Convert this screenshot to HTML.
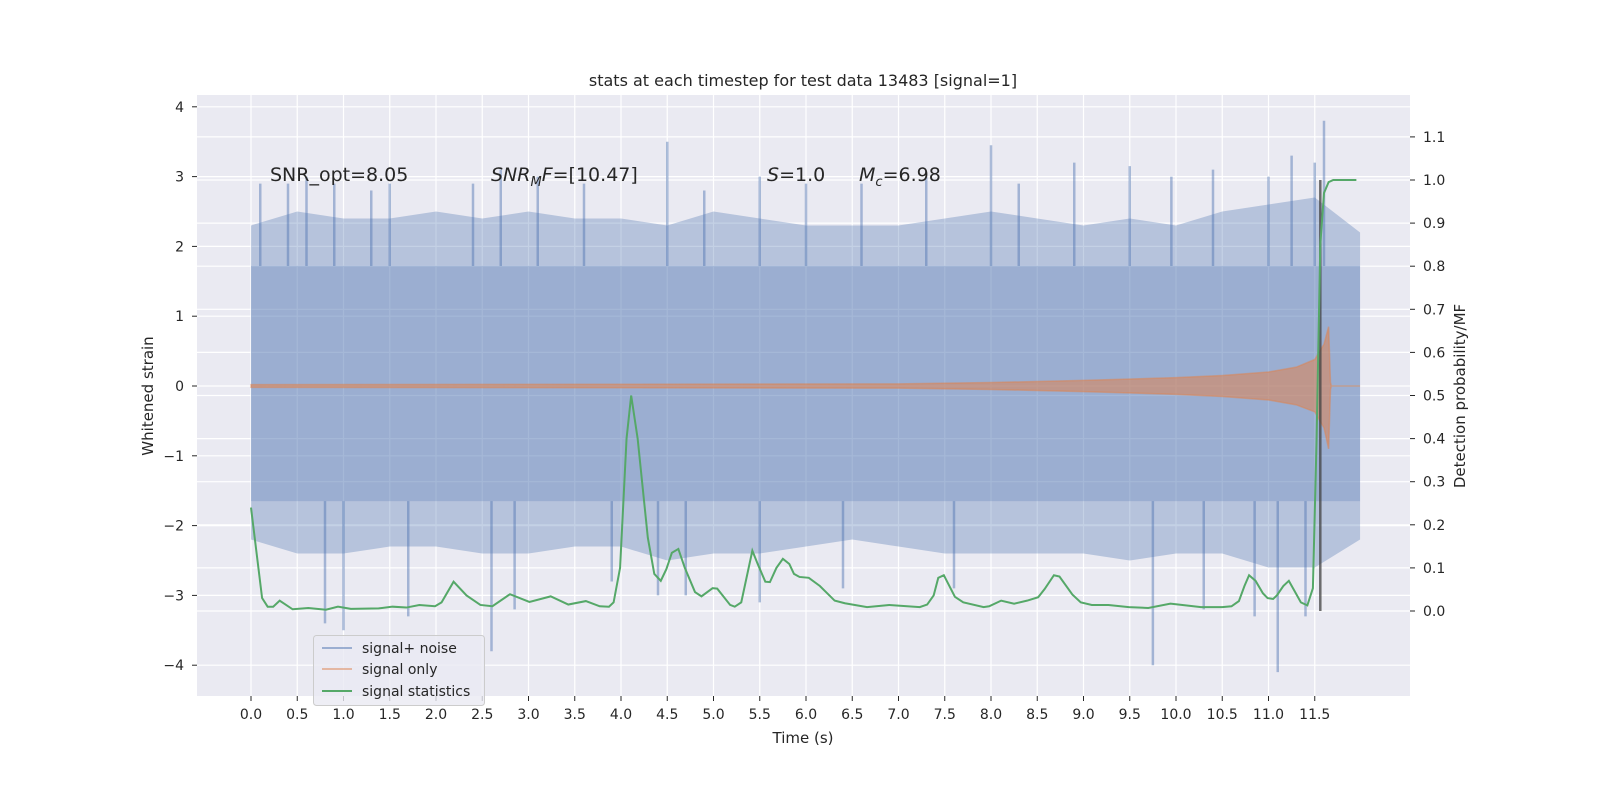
<!DOCTYPE html>
<html><head><meta charset="utf-8"><style>
html,body{margin:0;padding:0;background:#fff}
svg{display:block;font-family:"DejaVu Sans","Liberation Sans",sans-serif}
</style></head><body>
<svg id="chart" width="1600" height="800" viewBox="0 0 1600 800">
<rect x="0" y="0" width="1600" height="800" fill="#fff"/>
<rect x="197" y="95" width="1213" height="601" fill="#eaeaf2"/>
<g id="grid"></g>
<g id="marks"></g>
<g id="axes"></g>
<text x="803" y="86" text-anchor="middle" font-size="16" fill="#262626">stats at each timestep for test data 13483 [signal=1]</text>
<text x="803" y="743" text-anchor="middle" font-size="15" fill="#262626">Time (s)</text>
<text transform="translate(153,396) rotate(-90)" text-anchor="middle" font-size="15" fill="#262626">Whitened strain</text>
<text transform="translate(1465,396) rotate(-90)" text-anchor="middle" font-size="15" fill="#262626">Detection probability/MF</text>
<g font-size="19" fill="#262626">
<text x="270" y="181">SNR_opt=8.05</text>
<text x="491" y="181"><tspan font-style="italic">SNR</tspan><tspan font-style="italic" font-size="13" dy="5">M</tspan><tspan font-style="italic" dy="-5">F</tspan>=[10.47]</text>
<text x="767" y="181"><tspan font-style="italic">S</tspan>=1.0</text>
<text x="859" y="181"><tspan font-style="italic">M</tspan><tspan font-style="italic" font-size="13" dy="5">c</tspan><tspan dy="-5">=6.98</tspan></text>
</g>
<g>
<rect x="313.5" y="635.5" width="171" height="70" rx="3" fill="#eaeaf2" fill-opacity="0.8" stroke="#cccccc"/>
<line x1="322" y1="648" x2="352" y2="648" stroke="#4c72b0" stroke-opacity="0.5" stroke-width="2"/>
<text x="362" y="653" font-size="14" fill="#262626">signal+ noise</text>
<line x1="322" y1="669" x2="352" y2="669" stroke="#dd8452" stroke-opacity="0.5" stroke-width="2"/>
<text x="362" y="674" font-size="14" fill="#262626">signal only</text>
<line x1="322" y1="691" x2="352" y2="691" stroke="#55a868" stroke-width="2"/>
<text x="362" y="696" font-size="14" fill="#262626">signal statistics</text>
</g>
</svg>
<script>
const xTicks=[0,0.5,1,1.5,2,2.5,3,3.5,4,4.5,5,5.5,6,6.5,7,7.5,8,8.5,9,9.5,10,10.5,11,11.5];
const leftTicks=[-4,-3,-2,-1,0,1,2,3,4];
const rightTicks=[0,0.1,0.2,0.3,0.4,0.5,0.6,0.7,0.8,0.9,1.0,1.1];
const statT=[0,0.12,0.18,0.24,0.31,0.45,0.62,0.81,0.94,1.08,1.38,1.53,1.68,1.82,1.99,2.06,2.19,2.33,2.48,2.61,2.8,3.01,3.24,3.43,3.62,3.77,3.87,3.92,3.99,4.06,4.11,4.18,4.29,4.36,4.43,4.49,4.55,4.62,4.69,4.8,4.87,4.99,5.04,5.18,5.23,5.3,5.42,5.48,5.56,5.61,5.68,5.75,5.82,5.87,5.93,6.03,6.15,6.31,6.42,6.66,6.9,7.23,7.31,7.38,7.43,7.49,7.61,7.7,7.92,7.98,8.11,8.25,8.39,8.51,8.58,8.68,8.74,8.88,8.97,9.09,9.27,9.49,9.7,9.94,10.07,10.27,10.5,10.6,10.68,10.74,10.79,10.86,10.94,10.99,11.05,11.09,11.16,11.22,11.28,11.35,11.42,11.48,11.52,11.56,11.6,11.65,11.7,11.95];
const statV=[0.24,0.03,0.01,0.01,0.024,0.004,0.007,0.003,0.01,0.005,0.006,0.01,0.008,0.014,0.011,0.02,0.068,0.036,0.014,0.011,0.039,0.021,0.034,0.015,0.023,0.011,0.01,0.02,0.1,0.4,0.5,0.4,0.17,0.086,0.07,0.097,0.135,0.144,0.1,0.044,0.034,0.053,0.052,0.014,0.01,0.02,0.14,0.108,0.068,0.067,0.1,0.121,0.109,0.086,0.079,0.077,0.058,0.024,0.018,0.009,0.014,0.009,0.015,0.036,0.077,0.083,0.033,0.02,0.009,0.011,0.024,0.017,0.024,0.032,0.051,0.083,0.08,0.038,0.02,0.014,0.014,0.009,0.007,0.017,0.014,0.009,0.009,0.011,0.023,0.058,0.083,0.07,0.041,0.03,0.028,0.036,0.058,0.07,0.047,0.02,0.013,0.053,0.4,0.85,0.97,0.995,1.0,1.0];
const sigT=[0,7,8,9,10,10.5,11,11.3,11.5,11.6,11.65,11.67,11.68,11.99];
const sigUp=[0.02,0.03,0.05,0.08,0.12,0.15,0.2,0.27,0.38,0.6,0.85,0.05,0,0];
const sigLo=[-0.02,-0.03,-0.05,-0.08,-0.12,-0.15,-0.2,-0.27,-0.37,-0.6,-0.9,-0.05,0,0];
const envT=[0,0.5,1,1.5,2,2.5,3,3.5,4,4.5,5,5.5,6,6.5,7,7.5,8,8.5,9,9.5,10,10.5,11,11.5,11.99];
const envUp=[2.3,2.5,2.4,2.4,2.5,2.4,2.5,2.4,2.4,2.3,2.5,2.4,2.3,2.3,2.3,2.4,2.5,2.4,2.3,2.4,2.3,2.5,2.6,2.7,2.2];
const envLo=[-2.2,-2.4,-2.4,-2.3,-2.3,-2.4,-2.4,-2.3,-2.3,-2.5,-2.4,-2.4,-2.3,-2.2,-2.3,-2.4,-2.4,-2.4,-2.4,-2.5,-2.4,-2.4,-2.6,-2.6,-2.2];
const coreUp=1.72, coreLo=-1.65;
const spikeT=[0.1,0.4,0.6,0.9,1.3,1.5,2.4,2.7,3.1,3.6,4.5,4.9,5.5,6.0,6.6,7.3,8.0,8.3,8.9,9.5,9.95,10.4,11.0,11.25,11.5,11.6,0.8,1.0,1.7,2.6,2.85,3.9,4.4,4.7,5.5,6.4,7.6,9.75,10.3,10.85,11.1,11.4];
const spikeV=[2.9,2.9,3.0,2.9,2.8,2.9,2.9,3.1,3.0,2.9,3.5,2.8,3.0,2.9,2.9,3.0,3.45,2.9,3.2,3.15,3.0,3.1,3.0,3.3,3.2,3.8,-3.4,-3.5,-3.3,-3.8,-3.2,-2.8,-3.0,-3.0,-3.1,-2.9,-2.9,-4.0,-3.2,-3.3,-4.1,-3.3];
const markerT=11.56;

const X=t=>251+t*92.5, YL=v=>386-v*69.8, YR=v=>611-v*431;
const NS="http://www.w3.org/2000/svg";
function mk(p,tag,a){const e=document.createElementNS(NS,tag);for(const k in a)e.setAttribute(k,a[k]);p.appendChild(e);return e;}
const grid=document.getElementById('grid'),marks=document.getElementById('marks'),axes=document.getElementById('axes');
xTicks.forEach(t=>{const l=mk(grid,'line',{x1:X(t),x2:X(t),y1:95,y2:696,stroke:'#fff','stroke-width':1.2});


mk(axes,'line',{x1:X(t),x2:X(t),y1:696,y2:701,stroke:'#262626'});
const tx=mk(axes,'text',{x:X(t),y:719,'text-anchor':'middle','font-size':14,fill:'#262626'});tx.textContent=t.toFixed(1);

});
leftTicks.forEach(v=>{const l=mk(grid,'line',{x1:197,x2:1410,y1:YL(v),y2:YL(v),stroke:'#fff','stroke-width':1.2});


mk(axes,'line',{x1:192,x2:197,y1:YL(v),y2:YL(v),stroke:'#262626'});
const tx=mk(axes,'text',{x:184,y:YL(v)+5,'text-anchor':'end','font-size':14,fill:'#262626'});tx.textContent=v<0?'\u2212'+(-v):String(v);

});
rightTicks.forEach(v=>{const l=mk(grid,'line',{x1:197,x2:1410,y1:YR(v),y2:YR(v),stroke:'#fff','stroke-width':1.2});


mk(axes,'line',{x1:1410,x2:1415,y1:YR(v),y2:YR(v),stroke:'#262626'});
const tx=mk(axes,'text',{x:1423,y:YR(v)+5,'font-size':14,fill:'#262626'});tx.textContent=v.toFixed(1);

});
const tEnd=envT[envT.length-1];
let d='M'+envT.map((t,i)=>X(t)+','+YL(envUp[i])).join('L')+'L'+X(tEnd)+','+YL(coreUp)+'L'+X(0)+','+YL(coreUp)+'Z';
const envU=mk(marks,'path',{d:d,fill:'#4c72b0','fill-opacity':0.33});


d='M'+envT.map((t,i)=>X(t)+','+YL(envLo[i])).join('L')+'L'+X(tEnd)+','+YL(coreLo)+'L'+X(0)+','+YL(coreLo)+'Z';
const envL=mk(marks,'path',{d:d,fill:'#4c72b0','fill-opacity':0.33});


const core=mk(marks,'rect',{x:X(0),y:YL(coreUp),width:X(tEnd)-X(0),height:YL(coreLo)-YL(coreUp),fill:'#4c72b0','fill-opacity':0.5});


spikeT.forEach((t,i)=>{const s=mk(marks,'line',{x1:X(t),x2:X(t),y1:YL(spikeV[i]>0?coreUp:coreLo),y2:YL(spikeV[i]),stroke:'#4c72b0','stroke-opacity':0.45,'stroke-width':2.5});

});
d='M'+sigT.map((t,i)=>X(t)+','+YL(sigUp[i])).join('L')+'L'+sigT.slice().reverse().map((t,i)=>X(t)+','+YL(sigLo[sigT.length-1-i])).join('L')+'Z';
const sig=mk(marks,'path',{d:d,fill:'#dd8452','fill-opacity':0.55,stroke:'#dd8452','stroke-opacity':0.5,'stroke-width':1.5});


const m=mk(marks,'line',{x1:X(markerT),x2:X(markerT),y1:YR(1.0),y2:YR(0),stroke:'#404040','stroke-opacity':0.75,'stroke-width':2.5});


const g=mk(marks,'polyline',{points:statT.map((t,i)=>X(t)+','+YR(statV[i])).join(' '),fill:'none',stroke:'#55a868','stroke-width':2});


</script>
</body></html>
